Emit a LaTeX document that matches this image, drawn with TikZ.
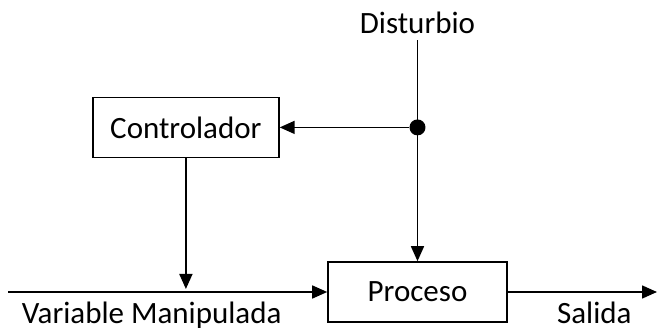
\documentclass[tikz,border=0pt]{standalone}
\usepackage{fontspec}
\setmainfont{Carlito}
\usetikzlibrary{matrix,arrows.meta,calc}

\tikzset{
  blk/.style={draw,minimum height=60pt},
  jdot/.style={circle,fill,inner sep=0pt,minimum size=16pt},
}

\begin{document}
\begin{tikzpicture}[x=1pt,y=-1pt,line width=1.6pt,font=\fontsize{31}{37}\selectfont]
\useasboundingbox (0,0) rectangle (657,331);
\matrix (m) at (417.5,292)
[matrix of nodes,matrix anchor=m-3-2.center,column sep=47.5pt,
 nodes={anchor=center,inner sep=10pt}]
{
 & |[inner ysep=6pt]| Disturbio \\[57pt]
|[blk,minimum width=186pt]| Controlador & |[jdot]| \\[103pt]
 & |[blk,minimum width=179pt]| Proceso \\
};
\coordinate (in) at (8,292);
\coordinate (out) at (657,292);
\coordinate (mv) at ($(m-2-1 |- in)+(0,-3)$);
\path[-{Triangle[length=15pt,width=13pt]}]
(m-1-2) edge (m-3-2)
(m-2-2) edge (m-2-1)
(m-2-1) edge (mv)
(in) edge node [pos=0,anchor=base west,inner sep=0pt,xshift=13pt,yshift=-32pt] {Variable Manipulada} (m-3-2)
(m-3-2) edge node [pos=.58,anchor=base,yshift=-32pt] {Salida} (out);
\end{tikzpicture}
\end{document}
